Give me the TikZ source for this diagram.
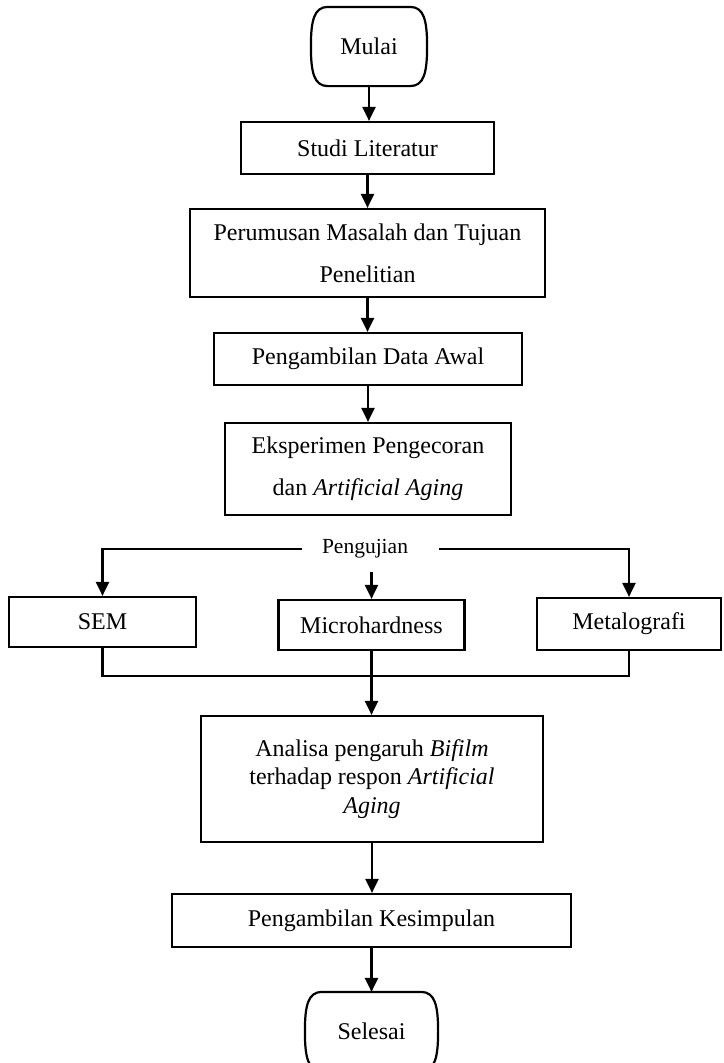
\documentclass[tikz,border=0pt]{standalone}
\usepackage{fontspec}
\setmainfont{Liberation Serif}
\usetikzlibrary{arrows.meta,calc}
\newcommand\termpath[1]{%
  \draw[conn] ($(#1.north west)+(17,0)$) -- ($(#1.north east)+(-17,0)$)
    .. controls ($(#1.north east)+(-3,0)$) and ($(#1.north east)+(0,14)$) .. (#1.east)
    .. controls ($(#1.south east)+(0,-14)$) and ($(#1.south east)+(-3,0)$) .. ($(#1.south east)+(-17,0)$)
    -- ($(#1.south west)+(17,0)$)
    .. controls ($(#1.south west)+(3,0)$) and ($(#1.south west)+(0,-14)$) .. (#1.west)
    .. controls ($(#1.north west)+(0,14)$) and ($(#1.north west)+(3,0)$) .. cycle;}
\begin{document}
\begin{tikzpicture}[x=1pt,y=-1pt,
  box/.style={draw,line width=2.2pt,inner sep=0pt,align=center,font=\fontsize{24}{28.5}\selectfont},
  dbl/.style={box,font=\fontsize{24}{42}\selectfont},
  term/.style={box,draw=none},
  conn/.style={line width=2.2pt},
  arr/.style={conn,-{Triangle[length=14pt,width=13pt]}},
]
\useasboundingbox (0,0) rectangle (723,1063);
\node[term,minimum width=114pt,minimum height=77pt] (mulai) at (369,46.5) {Mulai};
\node[box,minimum width=253pt,minimum height=52pt] (studi) at (367.5,148) {Studi Literatur};
\node[dbl,minimum width=355pt,minimum height=88pt] (rumus) at (367.5,253) {Perumusan Masalah dan Tujuan\\Penelitian};
\node[box,minimum width=308pt,minimum height=52pt] (awal) at (368,359) {Pengambilan Data Awal};
\node[dbl,minimum width=286pt,minimum height=92pt] (eksp) at (368,469) {Eksperimen Pengecoran\\dan \textit{Artificial Aging}};
\node[font=\fontsize{21.5}{24}\selectfont,inner sep=0pt] (peng) at (365,549) {Pengujian};
\node[box,minimum width=187pt,minimum height=50pt] (sem) at (102.5,622) {SEM};
\node[box,minimum width=186pt,minimum height=50pt] (micro) at (371.5,625) {Microhardness};
\node[box,minimum width=184pt,minimum height=52pt] (metal) at (629,624) {Metalografi};
\node[box,minimum width=342pt,minimum height=126pt] (analisa) at (372,779) {Analisa pengaruh \textit{Bifilm}\\terhadap respon \textit{Artificial}\\\textit{Aging}};
\node[box,minimum width=399pt,minimum height=53pt] (simpul) at (371.5,920.5) {Pengambilan Kesimpulan};
\node[term,minimum width=131pt,minimum height=77pt] (selesai) at (371.5,1031.5) {Selesai};
\termpath{mulai}
\termpath{selesai}

\coordinate (pl) at (302,549);
\coordinate (pr) at (439,549);
\coordinate (pm) at (371.5,572);
\coordinate (bus) at (371.5,676);

\draw[arr] (mulai.south) -- (mulai.south |- studi.north);
\draw[arr] (studi.south) -- (studi.south |- rumus.north);
\draw[arr] (rumus.south) -- (rumus.south |- awal.north);
\draw[arr] (awal.south) -- (awal.south |- eksp.north);
\draw[arr] (pl) -| (sem.north);
\draw[arr] (pr) -| (metal.north);
\draw[arr] (pm) -- (micro.north);
\draw[conn] (sem.south) |- (bus) -| (metal.south);
\draw[arr] (micro.south) -- (micro.south |- analisa.north);
\draw[arr] (analisa.south) -- (analisa.south |- simpul.north);
\draw[arr] (simpul.south) -- (simpul.south |- selesai.north);
\end{tikzpicture}
\end{document}
